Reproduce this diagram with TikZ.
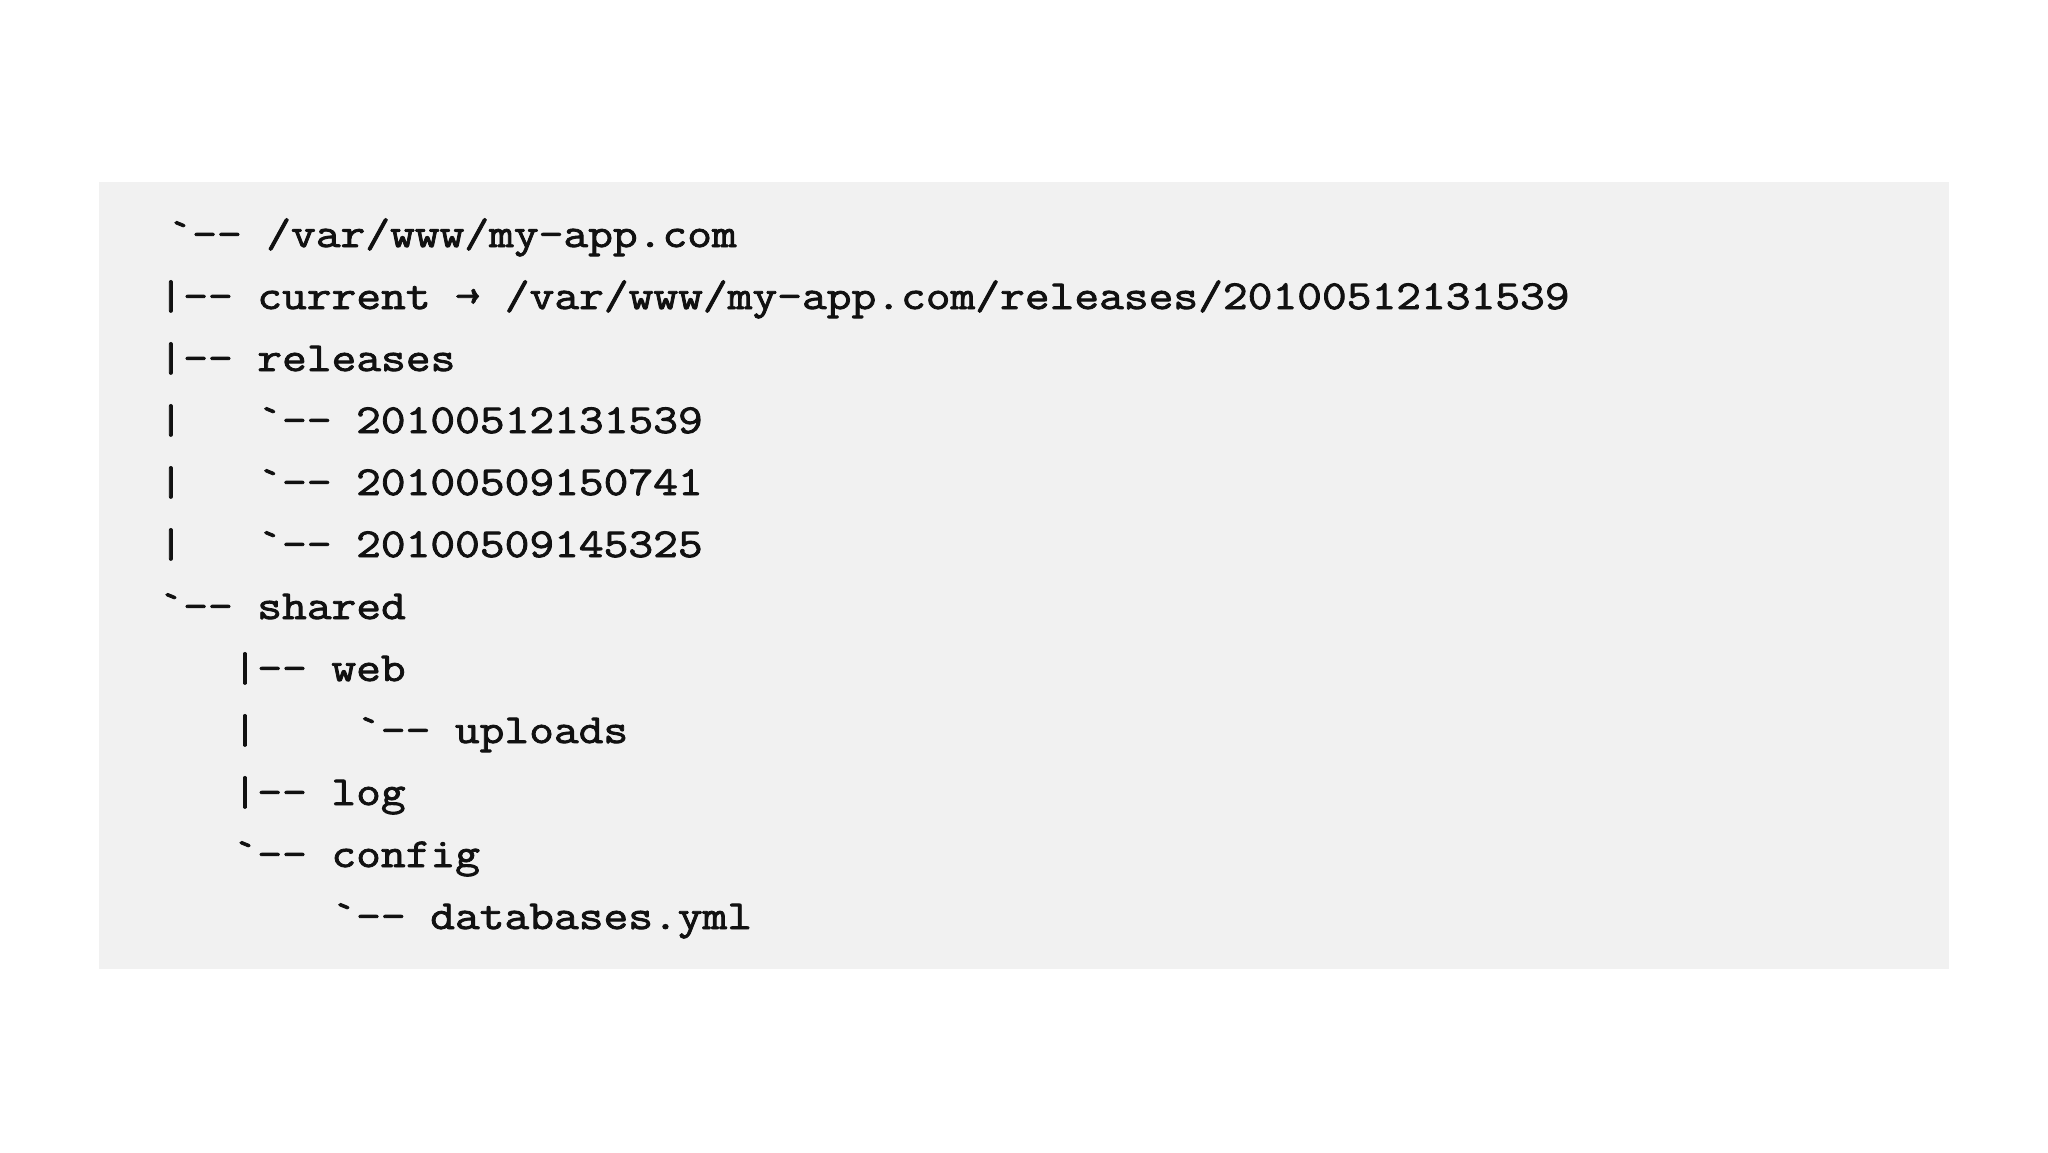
\documentclass[tikz,border=0pt]{standalone}
\usepackage{fontspec}
\newfontfamily\codefont{Latin Modern Mono}[FakeStretch=1.167,FakeBold=2]
\definecolor{boxgray}{HTML}{F1F1F1}
\definecolor{ink}{HTML}{111111}
\begin{document}
\begin{tikzpicture}[x=0.5pt,y=-0.5pt,
  code/.style={anchor=base west,inner sep=0pt,outer sep=0pt,text=ink,
    font=\codefont\fontsize{20.6}{24}\selectfont}]
\useasboundingbox (0,0) rectangle (2048,1152);
\fill[white] (0,0) rectangle (2048,1152);
\fill[boxgray] (99,182) rectangle (1949,969);
\def\xo{158.5}
\def\cw{24.7}
% line 1
\node[code] (l1p) at ({\xo+9},247) {`-{}-};
\node[code] (l1n) at ({\xo+4*\cw+9},247) {/var/www/my-app.com};
% line 2
\node[code] (l2p) at ({\xo},309) {|-{}-};
\node[code] (l2n) at ({\xo+4*\cw},309) {current \textrightarrow{} /var/www/my-app.com/releases/20100512131539};
% line 3
\node[code] (l3p) at ({\xo},371) {|-{}-};
\node[code] (l3n) at ({\xo+4*\cw},371) {releases};
% line 4
\node[code] (l4b) at ({\xo},433) {|};
\node[code] (l4p) at ({\xo+4*\cw},433) {`-{}-};
\node[code] (l4n) at ({\xo+8*\cw},433) {20100512131539};
% line 5
\node[code] (l5b) at ({\xo},495) {|};
\node[code] (l5p) at ({\xo+4*\cw},495) {`-{}-};
\node[code] (l5n) at ({\xo+8*\cw},495) {20100509150741};
% line 6
\node[code] (l6b) at ({\xo},557) {|};
\node[code] (l6p) at ({\xo+4*\cw},557) {`-{}-};
\node[code] (l6n) at ({\xo+8*\cw},557) {20100509145325};
% line 7
\node[code] (l7p) at ({\xo},619) {`-{}-};
\node[code] (l7n) at ({\xo+4*\cw},619) {shared};
% line 8
\node[code] (l8p) at ({\xo+3*\cw},681) {|-{}-};
\node[code] (l8n) at ({\xo+7*\cw},681) {web};
% line 9
\node[code] (l9b) at ({\xo+3*\cw},743) {|};
\node[code] (l9p) at ({\xo+8*\cw},743) {`-{}-};
\node[code] (l9n) at ({\xo+12*\cw},743) {uploads};
% line 10
\node[code] (l10p) at ({\xo+3*\cw},805) {|-{}-};
\node[code] (l10n) at ({\xo+7*\cw},805) {log};
% line 11
\node[code] (l11p) at ({\xo+3*\cw},867) {`-{}-};
\node[code] (l11n) at ({\xo+7*\cw},867) {config};
% line 12
\node[code] (l12p) at ({\xo+7*\cw},929) {`-{}-};
\node[code] (l12n) at ({\xo+11*\cw},929) {databases.yml};
\end{tikzpicture}
\end{document}
